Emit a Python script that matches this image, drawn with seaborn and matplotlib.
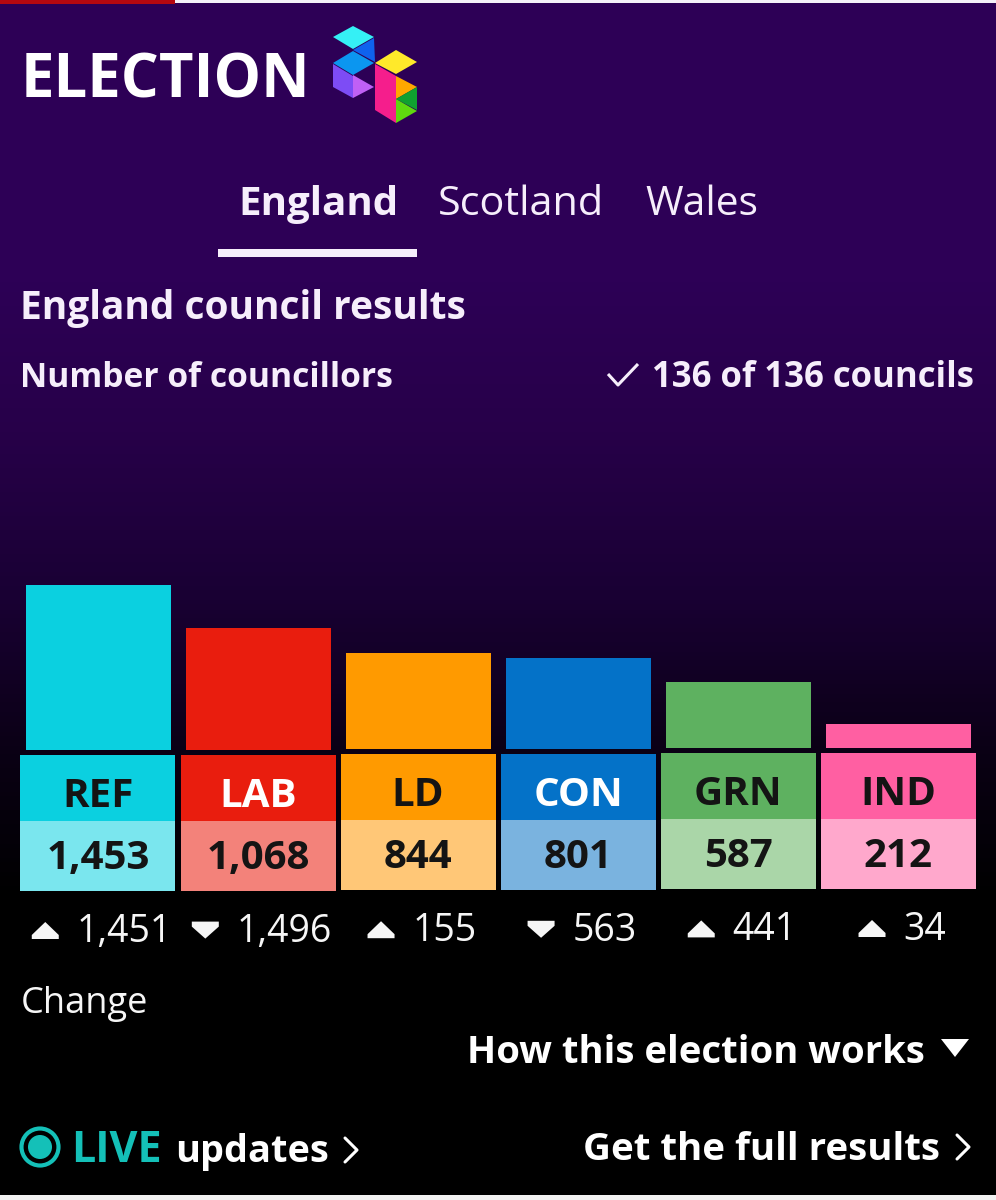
import numpy as np
import pandas as pd
import seaborn as sns
import matplotlib.pyplot as plt
from matplotlib.patches import Polygon, Rectangle
from matplotlib.colors import LinearSegmentedColormap

parties = ["REF", "LAB", "LD", "CON", "GRN", "IND"]
seats = [1453, 1068, 844, 801, 587, 212]
changes = [1451, -1496, 155, -563, 441, 34]
bar_colors = ["#0bd0e0", "#e91d0e", "#ff9a00", "#0472c8", "#5eb160", "#ff5fa2"]
value_colors = ["#7ae6ee", "#f3827a", "#ffc777", "#7ab3df", "#aad6a8", "#ffa8cc"]
label_colors = ["#141414", "#ffffff", "#141414", "#ffffff", "#141414", "#141414"]
tabs = ["England", "Scotland", "Wales"]

W, H = 996, 1200
FONT = "Open Sans"

sns.set_theme(style="white")
plt.rcParams["font.family"] = [FONT, "DejaVu Sans"]

fig = plt.figure(figsize=(W / 100, H / 100), dpi=100, facecolor="black")

# page background, purple fading to black
bg = fig.add_axes([0, 0, 1, 1], zorder=0)
cmap = LinearSegmentedColormap.from_list("page", [
    (0, "#2d0056"), (0.233, "#2d0056"), (0.36, "#270049"),
    (0.5, "#190033"), (0.63, "#0a0014"), (0.75, "#000000"), (1, "#000000")])
bg.imshow(np.linspace(0, 1, 600).reshape(-1, 1), aspect="auto", cmap=cmap, extent=[0, W, H, 0])
bg.set_xlim(0, W)
bg.set_ylim(H, 0)
bg.axis("off")

# the bars
bar_bottom = 750
px_per_seat = 0.1136
ax = fig.add_axes([18.5 / W, 1 - bar_bottom / H, 960 / W, 400 / H], zorder=1)
df = pd.DataFrame({"party": parties, "seats": seats})
sns.barplot(data=df, x="party", y="seats", hue="party", palette=bar_colors,
            order=parties, hue_order=parties, width=0.906, saturation=1,
            legend=False, ax=ax, linewidth=0)
ax.set_xlim(-0.5, 5.5)
ax.set_ylim(0, 400 / px_per_seat)
ax.axis("off")
# the screenshot is very slightly tilted
for i, bar in enumerate(ax.patches):
    bar.set_y(0.4 * i / px_per_seat)

# overlay in pixel coordinates for the page furniture
ov = fig.add_axes([0, 0, 1, 1], zorder=2)
ov.set_xlim(0, W)
ov.set_ylim(H, 0)
ov.axis("off")
ov.patch.set_alpha(0)


def txt(x, y, s, size, weight="normal", color="#ffffff", ha="left", **kw):
    return ov.text(x, y, s, fontsize=size, fontweight=weight, color=color, ha=ha, va="baseline", **kw)


# top and bottom strips
ov.add_patch(Rectangle((0, 0), W, 3, color="#f4f0f8", lw=0))
ov.add_patch(Rectangle((0, 0), 175, 3.5, color="#b5080f", lw=0))
ov.add_patch(Rectangle((0, 1195), W, 5, color="#f2f2f2", lw=0))

txt(21, 97, "ELECTION", 43, "bold")

# logo
logo = [
    ("#35f0f5", [(333, 37), (353, 26), (374, 37), (353, 49)]),
    ("#0f62ee", [(353, 50), (374, 38), (375, 62), (364, 56)]),
    ("#0b96f0", [(333, 63), (353, 51), (374, 63), (353, 75)]),
    ("#7d4cf5", [(333, 64), (353, 76), (353, 98), (333, 87)]),
    ("#c060f5", [(353, 75), (374, 87), (353, 98)]),
    ("#ffe92a", [(375, 63), (396, 50), (417, 62), (396, 74)]),
    ("#f51e8c", [(375, 64), (396, 76), (396, 123), (375, 110)]),
    ("#ffa800", [(396, 76), (417, 87), (396, 99)]),
    ("#0fa030", [(417, 87), (417, 110), (396, 99)]),
    ("#5fd80f", [(396, 99), (417, 111), (396, 123)]),
]
for col, pts in logo:
    ov.add_patch(Polygon(pts, closed=True, color=col, lw=0))

# tabs
txt(238.5, 215, tabs[0], 29, "bold", "#f6eefb")
txt(438, 215, tabs[1], 29.8, "normal", "#f6eefb")
txt(645, 215, tabs[2], 29.3, "normal", "#f6eefb")
ov.add_patch(Rectangle((218, 249), 199, 8, color="#f6eefb", lw=0))

txt(20, 319, "England council results", 28, "bold", "#f6eefb")
txt(20.5, 387, "Number of councillors", 24.2, "bold", "#f6eefb")
txt(974, 387, "136 of 136 councils", 25, "bold", "#f6eefb", ha="right")
ov.plot([608, 618, 638], [374, 385, 364], color="#f6eefb", lw=2.2, solid_capstyle="butt")

# party tiles below the bars
fig.canvas.draw()
renderer = fig.canvas.get_renderer()
tile_w = 155
for i, party in enumerate(parties):
    left = 20.4 + 160.1 * i
    drop = -0.4 * i
    ov.add_patch(Rectangle((left, 755 + drop), tile_w, 66, color=bar_colors[i], lw=0))
    ov.add_patch(Rectangle((left, 821 + drop), tile_w, 70, color=value_colors[i], lw=0))
    cx = left + tile_w / 2
    txt(cx, 807 + drop, party, 29, "bold", label_colors[i], ha="center")
    txt(cx, 869 + drop, f"{seats[i]:,}", 29, "bold", "#141414", ha="center")

    # change row, triangle and number centred as one group
    base = 942 + drop
    label = txt(0, base, f"{abs(changes[i]):,}", 27, "normal", "#f6f6f6")
    w = label.get_window_extent(renderer).width
    start = cx - (27 + 18 + w) / 2 + 4
    label.set_x(start + 45)
    if changes[i] > 0:
        pts = [(start, base - 3), (start + 27, base - 3), (start + 27, base - 7),
               (start + 13.5, base - 20), (start, base - 7)]
    else:
        pts = [(start, base - 20), (start + 27, base - 20), (start + 27, base - 15),
               (start + 13.5, base - 3), (start, base - 15)]
    ov.add_patch(Polygon(pts, closed=True, color="#f6f6f6", lw=0))

txt(20.5, 1013, "Change", 26, "normal", "#f6f6f6")
txt(925, 1063, "How this election works", 27.5, "bold", ha="right")
ov.add_patch(Polygon([(941, 1039), (969, 1039), (955, 1057)], closed=True, color="#ffffff", lw=0))

# live marker
ov.add_patch(plt.Circle((40, 1147), 18.5, fill=False, ec="#14c0b8", lw=3))
ov.add_patch(plt.Circle((40, 1147), 12, color="#14c0b8", lw=0))
txt(71, 1162, "LIVE", 31, "bold", "#14c0b8")
txt(175, 1162, "updates", 27.3, "bold")
ov.plot([345, 357, 345], [1138, 1150, 1162], color="#ffffff", lw=2.2)
txt(940, 1160, "Get the full results", 27.7, "bold", ha="right")
ov.plot([957, 969, 957], [1135, 1147, 1159], color="#ffffff", lw=2.2)

fig.savefig("out.png", dpi=100, facecolor="black")
